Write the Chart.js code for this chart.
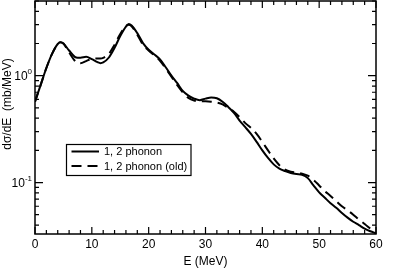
<!DOCTYPE html>
<html>
<head>
<meta charset="utf-8">
<script src="https://cdn.jsdelivr.net/npm/chart.js@4/dist/chart.umd.min.js"></script>
<style>
html,body{margin:0;padding:0;background:#fff;}
#wrap{position:relative;width:415px;height:269px;}
</style>
</head>
<body>
<div id="wrap"><canvas id="c" width="415" height="269"></canvas></div>
<script>
// ---- data ----
const energy = [0,1,2,3,4,4.5,5,6,7,7.5,8,9,10,11,11.5,12,13,14,15,16,16.5,17,18,19,20,21,22,23,24,25,26,27,28,29,30,31,32,33,34,35,36,37,38,39,40,41,42,43,44,45,46,47,48,49,50,51,52,53,54,55,56,57,58,59,60];
const solidValues = [0.57,0.82,1.18,1.6,1.98,2.06,2.0,1.72,1.5,1.47,1.47,1.5,1.43,1.34,1.31,1.33,1.48,1.82,2.35,2.88,3.05,2.95,2.5,2.02,1.75,1.58,1.42,1.2,1.0,0.855,0.72,0.65,0.61,0.59,0.61,0.626,0.615,0.57,0.51,0.45,0.38,0.33,0.285,0.24,0.2,0.17,0.148,0.135,0.128,0.123,0.12,0.118,0.11,0.094,0.081,0.072,0.064,0.058,0.052,0.047,0.043,0.04,0.037,0.035,0.0335];
const dashedValues = [0.57,0.82,1.18,1.6,1.98,2.06,2.0,1.65,1.38,1.31,1.31,1.37,1.44,1.45,1.45,1.47,1.6,1.95,2.45,2.92,3.0,2.9,2.42,1.95,1.72,1.55,1.38,1.17,0.98,0.82,0.7,0.62,0.585,0.575,0.575,0.57,0.56,0.54,0.5,0.46,0.41,0.36,0.325,0.285,0.24,0.2,0.168,0.145,0.132,0.126,0.124,0.121,0.116,0.106,0.094,0.083,0.075,0.067,0.06,0.055,0.05,0.045,0.041,0.037,0.0335];
const seriesNames = ['1, 2 phonon', '1, 2 phonon (old)'];
const xTickValues = [0,10,20,30,40,50,60];
const xMinorTicks = [2,4,6,8,12,14,16,18,22,24,26,28,32,34,36,38,42,44,46,48,52,54,56,58];
const yMajorTicks = [0.1, 1];
const yTickBase = ['10', '10'];
const yTickExponents = ['-1', '0'];
const yMinorTicks = [0.04,0.05,0.06,0.07,0.08,0.09,0.2,0.3,0.4,0.5,0.6,0.7,0.8,0.9,2,3,4,5];
const xTitle = 'E (MeV)';
const yTitle = 'dσ/dE  (mb/MeV)';

const FONT = '"Liberation Sans", Arial, Helvetica, sans-serif';

const pts = (vals) => energy.map((e, i) => ({x: e, y: vals[i]}));

const decorPlugin = {
  id: 'decor',
  afterDraw(chart) {
    const {ctx, chartArea: a, scales: {x, y}} = chart;
    ctx.save();
    ctx.strokeStyle = '#000';
    ctx.fillStyle = '#000';
    // frame
    ctx.lineWidth = 1.5;
    ctx.strokeRect(a.left, a.top, a.right - a.left, a.bottom - a.top);
    // x ticks (inward, bottom and top)
    ctx.lineWidth = 1.2;
    ctx.beginPath();
    const xt = (v, len) => {
      const px = x.getPixelForValue(v);
      ctx.moveTo(px, a.bottom); ctx.lineTo(px, a.bottom - len);
      ctx.moveTo(px, a.top); ctx.lineTo(px, a.top + len);
    };
    xTickValues.forEach(v => xt(v, 7));
    xMinorTicks.forEach(v => xt(v, 4));
    const yt = (v, len) => {
      const py = y.getPixelForValue(v);
      ctx.moveTo(a.left, py); ctx.lineTo(a.left + len, py);
      ctx.moveTo(a.right, py); ctx.lineTo(a.right - len, py);
    };
    yMajorTicks.forEach(v => yt(v, 8));
    yMinorTicks.forEach(v => yt(v, 4));
    ctx.stroke();
    // y tick labels with superscript exponent
    yMajorTicks.forEach((v, i) => {
      const py = y.getPixelForValue(v);
      ctx.font = '8px ' + FONT;
      const ew = ctx.measureText(yTickExponents[i]).width;
      const right = 32;
      ctx.textBaseline = 'middle';
      ctx.textAlign = 'left';
      ctx.fillText(yTickExponents[i], right - ew, py - 4);
      ctx.font = '12px ' + FONT;
      ctx.textAlign = 'right';
      ctx.fillText(yTickBase[i], right - ew, py + 1);
    });
    // y title
    ctx.save();
    ctx.translate(8, 104);
    ctx.rotate(-Math.PI / 2);
    ctx.font = '12px ' + FONT;
    ctx.textAlign = 'center';
    ctx.textBaseline = 'middle';
    ctx.fillText(yTitle, 0, 0);
    ctx.restore();
    // legend
    ctx.lineWidth = 1.2;
    ctx.setLineDash([]);
    ctx.strokeRect(66.5, 144.5, 124.5, 31);
    const rows = [151.5, 166];
    chart.data.datasets.forEach((ds, i) => {
      ctx.lineWidth = 2;
      ctx.setLineDash(ds.borderDash || []);
      ctx.beginPath();
      ctx.moveTo(71.5, rows[i]);
      ctx.lineTo(99, rows[i]);
      ctx.stroke();
      ctx.setLineDash([]);
      ctx.font = '11px ' + FONT;
      ctx.textAlign = 'left';
      ctx.textBaseline = 'middle';
      ctx.fillText(ds.label, 104, rows[i] + 0.5);
    });
    ctx.restore();
  }
};

new Chart(document.getElementById('c'), {
  type: 'line',
  data: {
    datasets: [
      {label: seriesNames[0], data: pts(solidValues), borderColor: '#000', borderWidth: 2, pointRadius: 0, cubicInterpolationMode: 'monotone', fill: false},
      {label: seriesNames[1], data: pts(dashedValues), borderColor: '#000', borderWidth: 2, borderDash: [10, 6], pointRadius: 0, cubicInterpolationMode: 'monotone', fill: false}
    ]
  },
  options: {
    responsive: false,
    animation: false,
    devicePixelRatio: 1,
    layout: {padding: {top: 1, right: 39, left: 0, bottom: 0}},
    plugins: {legend: {display: false}, tooltip: {enabled: false}},
    scales: {
      x: {
        type: 'linear', min: 0, max: 60,
        afterBuildTicks: (s) => { s.ticks = xTickValues.map(v => ({value: v})); },
        afterFit: (s) => { s.height = 35; },
        grid: {display: false, drawTicks: false},
        border: {display: false},
        ticks: {color: '#000', font: {size: 12, family: FONT}, padding: 3, autoSkip: false, maxRotation: 0},
        title: {display: true, text: xTitle, color: '#000', font: {size: 12, family: FONT}, padding: {top: 0, bottom: 0}}
      },
      y: {
        type: 'logarithmic', min: 0.033, max: 5,
        afterFit: (s) => { s.width = 35; },
        grid: {display: false, drawTicks: false},
        border: {display: false},
        ticks: {display: false}
      }
    }
  },
  plugins: [decorPlugin]
});
</script>
</body>
</html>
